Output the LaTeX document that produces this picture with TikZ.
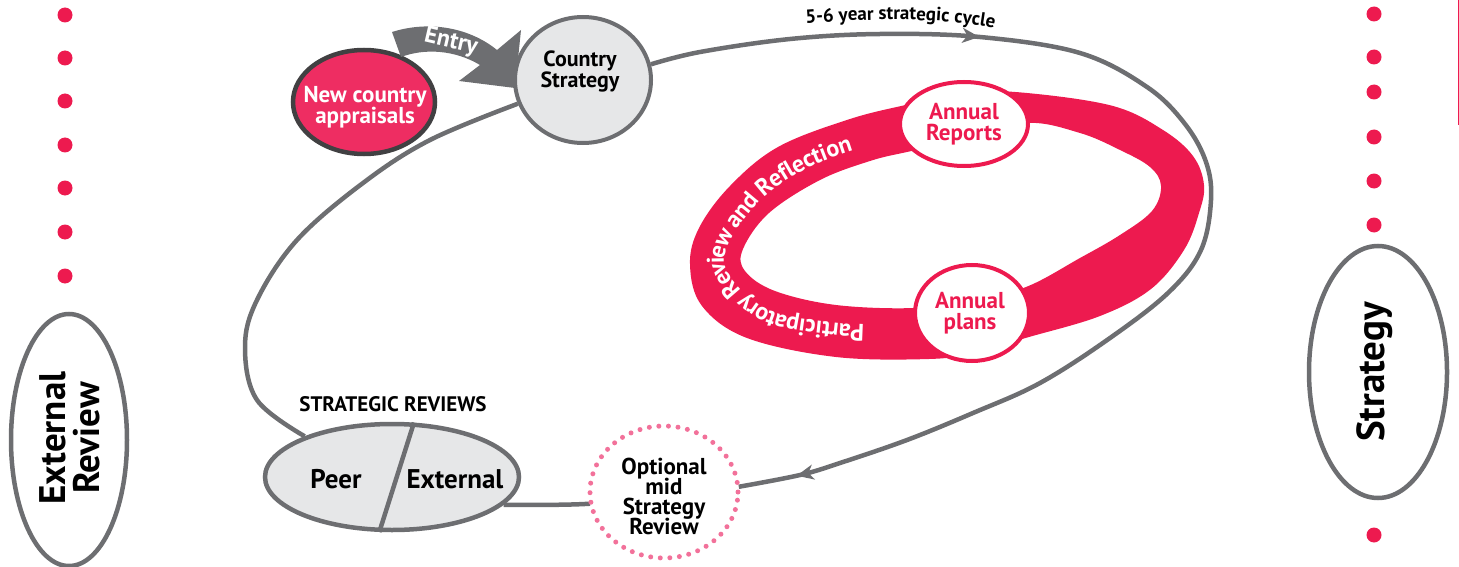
\documentclass[tikz,border=0pt]{standalone}
\usepackage{fontspec}
\setmainfont{PT Sans}
\usetikzlibrary{arrows.meta,decorations.text,decorations.markings,shapes.geometric}
\definecolor{lgray}{HTML}{6D6E71}
\definecolor{lfill}{HTML}{E6E7E8}
\definecolor{cred}{HTML}{ED1A4F}
\definecolor{npink}{HTML}{EE2D62}
\definecolor{dgray}{HTML}{414042}
\definecolor{dotpink}{HTML}{F2719A}
\newcommand{\fs}[1]{\fontsize{#1}{#1}\selectfont\bfseries}
\begin{document}
\begin{tikzpicture}[x=1pt,y=-1pt,
  shp/.style={ellipse, inner sep=0pt, line width=#1},
  txt/.style={font=\fs{22}, align=center, inner sep=0pt},
  reddot/.style={fill=cred, circle, inner sep=0pt, minimum size=15pt},
  loopline/.style={draw=lgray, line width=4.5pt}
]
\useasboundingbox (0,0) rectangle (1459,567);

% side dots
\foreach \i/\y in {1/15,2/58,3/101,4/145,5/188,6/232,7/276}
  \node[reddot] (ld\i) at (65,\y) {};
\foreach \i/\y in {1/14,2/57,3/92,4/137,5/181,6/225,7/535}
  \node[reddot] (rd\i) at (1374,\y) {};

% side ellipses
\node[shp=4.5pt, draw=lgray, minimum width=116pt, minimum height=252pt] (ext) at (69,440) {};
\node[txt, rotate=90, font=\fs{37}, text=black] (extt) at (70,438) {External\\[-3pt]Review};
\node[shp=4.5pt, draw=lgray, minimum width=138pt, minimum height=252pt] (str) at (1378,372) {};
\node[txt, rotate=90, font=\fs{39}] (strt) at (1375,372) {Strategy};
\draw[cred, line width=1pt] (1458,0) coordinate (rl1) -- (1458,125) coordinate (rl2);

% nodes
\node[shp=4pt, draw=lgray, fill=lfill, minimum width=136pt, minimum height=126pt] (cs) at (583,80) {};
\node[txt] (cst) at (580,71) {Country\\[-1pt]Strategy};
\node[shp=4.5pt, draw=dgray, fill=npink, minimum width=142pt, minimum height=104pt] (nca) at (364,102) {};
\node[txt, font=\fs{23}, text=white] (ncat) at (365,107) {New country\\[-2pt]appraisals};
\node[shp=4.5pt, draw=lgray, fill=lfill, minimum width=254pt, minimum height=106pt] (sr) at (392,477) {};
\node[shp=0pt, minimum width=150pt, minimum height=136pt] (opt) at (664,492) {};

% big loop
\draw[loopline, postaction={decorate}, decoration={markings,
   mark=at position 0.27 with {\arrow{Stealth[length=17pt,width=15pt,inset=5pt]}},
   mark=at position 0.952 with {\arrow{Stealth[length=17pt,width=15pt,inset=5pt]}}}]
  plot[smooth, tension=0.6] coordinates {(cs.13) (700,52) (790,39) (880,34) (980,37) (1080,53) (1147,87) (1185,124) (1206,162) (1211,200) (1201,250) (1169,292) (1110,338) (1040,383) (973,413) (907,440) (840,463) (800,475) (opt.4)};
\draw[loopline] plot[smooth, tension=0.6] coordinates {(sr.155) (257,400) (245,347) (257,300) (297,240) (363,183) (430,140) (cs.200)};
\draw[loopline] (sr.-14) .. controls (540,505) and (570,505) .. (opt.189);

% strategic review divider and labels
\draw[lgray, line width=4.5pt] (sr.68) -- (sr.-103);
\node[txt, font=\fs{27}] (peer) at (336,479) {Peer};
\node[txt, font=\fs{27}] (extn) at (455,479) {External};
\node[txt, font=\fs{21}] (srt) at (393,404) {STRATEGIC REVIEWS};

% optional circle
\draw[dotpink, line width=5pt, line cap=round, dash pattern=on 0pt off 9.6pt] (opt.center) ellipse (74pt and 66pt);
\node[txt, font=\fs{23}] (optt) at (664,496) {Optional\\[-3pt]mid\\[-3pt]Strategy\\[-3pt]Review};

% cycle label
\path[decorate, decoration={text along path, text align=center,
  text={|\fs{19}|5-6 year strategic cycle}}]
  (800,24) .. controls (870,18) and (940,17) .. (1000,29);

% entry arrow
\fill[lgray] (392,32) .. controls (430,20) and (470,28) .. (497,50)
  -- (521,30) -- (515,88) -- (459,81) -- (480,65)
  .. controls (455,50) and (425,48) .. (401,57) -- cycle;
\node[txt, text=white, rotate=-13, font=\fs{24}] (entry) at (451,42) {Entry};

% red ring
\fill[cred, even odd rule]
  plot[smooth cycle, tension=0.6] coordinates {(965,92) (1027,93) (1113,106) (1163,130) (1193,156) (1204,185) (1199,213) (1184,250) (1151,289) (1100,316) (1029,337) (972,353) (929,359) (836,357) (747,338) (702,306) (690,265) (699,228) (730,186) (778,147) (850,119) (910,104)}
  plot[smooth cycle, tension=0.6] coordinates {(1027,123) (1080,133) (1120,150) (1150,167) (1161,186) (1152,211) (1120,235) (1080,258) (1026,287) (972,300) (915,308) (836,305) (775,291) (745,271) (743,249) (769,213) (820,180) (870,161) (907,152) (965,140)};
\path[decorate, decoration={text along path, text align=center, raise=-8pt,
  text={|\color{white}\fs{24}|Participatory Review and Reflection}}]
  plot[smooth, tension=0.6] coordinates {(912,333) (836,331) (760,315) (716,262) (750,200) (800,163) (860,140) (897,131)};

\node[shp=4pt, draw=cred, fill=white, minimum width=128pt, minimum height=84pt] (ar) at (964,124) {};
\node[txt, text=cred, font=\fs{23}] (art) at (964,124) {Annual\\[-2pt]Reports};
\node[shp=4pt, draw=cred, fill=white, minimum width=114pt, minimum height=96pt] (ap) at (972,313) {};
\node[txt, text=cred, font=\fs{23}] (apt) at (970,313) {Annual\\[-2pt]plans};
\end{tikzpicture}
\end{document}
